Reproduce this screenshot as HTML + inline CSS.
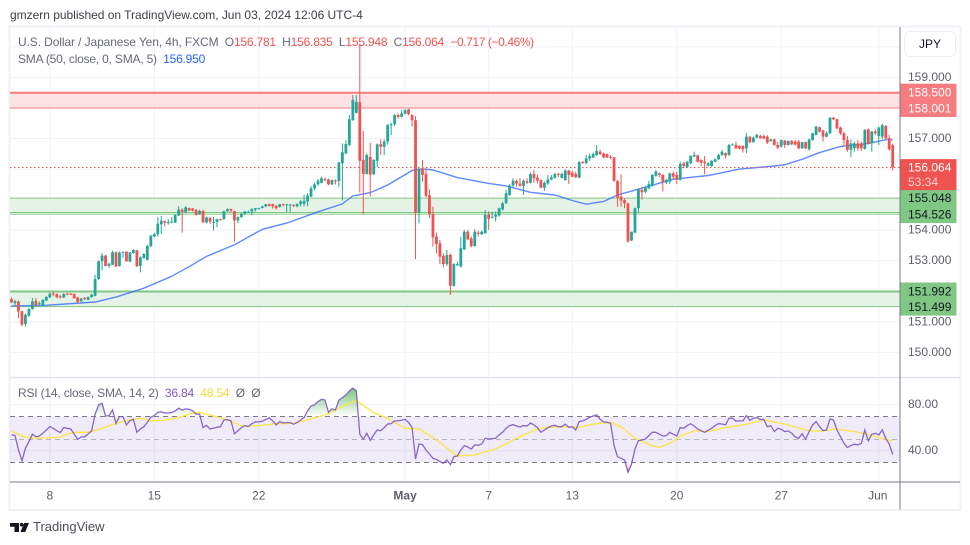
<!DOCTYPE html>
<html lang="en">
<head>
<meta charset="utf-8">
<title>USD/JPY 4h chart</title>
<style>
html,body{margin:0;padding:0;background:#fff;width:970px;height:545px;overflow:hidden}
body{position:relative;font-family:"Liberation Sans",sans-serif;font-size:12px;color:#666975}
svg{position:absolute;left:0;top:0}
.t{position:absolute;white-space:pre;line-height:14px}
.r{color:#ef5350}.b{color:#2962ff}.p{color:#7e57c2}.y{color:#f2dc3c}
</style>
</head>
<body>
<svg id="chart" width="970" height="545" viewBox="0 0 970 545"></svg>

<div class="t" style="left:10px;top:8px;color:#3c3f47;letter-spacing:-.02px">gmzern published on TradingView.com, Jun 03, 2024 12:06 UTC-4</div>

<div class="t" style="left:18px;top:35px;letter-spacing:-.1px">U.S. Dollar / Japanese Yen, 4h, FXCM<span style="letter-spacing:-.2px">  O<span class="r">156.781</span>  H<span class="r">156.835</span>  L<span class="r">155.948</span>  C<span class="r">156.064</span>  </span><span class="r" style="letter-spacing:-.4px">−0.717 (−0.46%)</span></div>
<div class="t" style="left:18px;top:52px;letter-spacing:-.2px">SMA (50, close, 0, SMA, 5)  <span class="b">156.950</span></div>
<div class="t" style="left:18px;top:386px;letter-spacing:-.18px">RSI (14, close, SMA, 14, 2)  <span class="p">36.84</span>  <span class="y">48.54</span>  Ø  Ø</div>

<div class="t" style="left:904px;top:31px;height:24px;line-height:24px;border:1.5px solid #eceef3;border-radius:5px;box-sizing:content-box;width:50px;color:#131722;text-align:center">JPY</div>

<div class="t" style="left:33px;top:519px;font-size:13px;line-height:16px;color:#4a4d55">TradingView</div>

<script>
// ---- price series (4h bars) ----
const opens = [
151.74,151.61,151.66,151.35,150.93,151.20,151.42,151.69,151.59,151.55,
151.70,151.80,151.93,151.91,151.84,151.80,151.92,151.92,151.91,151.80,
151.67,151.78,151.72,151.81,151.85,152.40,152.98,153.17,152.83,152.87,
153.28,152.83,153.27,153.30,152.97,153.25,153.34,152.83,153.09,153.03,
153.47,153.79,153.87,154.19,154.30,154.25,154.26,154.25,154.48,154.67,
154.58,154.72,154.71,154.67,154.52,154.63,154.25,154.40,154.24,154.27,
154.36,154.36,154.62,154.69,154.62,154.32,154.43,154.54,154.59,154.61,
154.67,154.70,154.73,154.78,154.85,154.85,154.80,154.76,154.85,154.83,
154.82,154.83,154.78,154.86,154.86,154.94,155.10,155.37,155.50,155.55,
155.67,155.66,155.50,155.63,155.61,156.19,156.51,156.79,157.60,157.84,
158.19,156.30,155.84,156.40,155.83,156.27,156.81,156.73,156.90,157.44,
157.47,157.77,157.71,157.81,157.95,157.77,157.60,154.57,156.02,155.84,
155.14,154.53,153.79,153.57,153.16,152.89,153.19,152.18,152.85,152.81,
153.37,153.95,153.73,153.48,153.92,153.87,153.90,154.50,154.42,154.44,
154.48,154.68,154.88,155.15,155.46,155.61,155.53,155.45,155.60,155.55,
155.84,155.72,155.64,155.39,155.53,155.66,155.71,155.84,155.71,155.64,
155.95,155.88,155.84,155.72,156.23,156.19,156.35,156.38,156.46,156.57,
156.51,156.49,156.40,156.38,155.61,155.10,154.99,154.88,153.66,153.92,
154.72,155.32,155.26,155.37,155.45,155.78,155.86,155.81,155.56,155.59,
155.86,155.81,155.65,156.19,156.06,156.19,156.41,156.45,156.30,156.24,
156.11,156.10,156.24,156.32,156.46,156.52,156.46,156.79,156.79,156.76,
156.76,156.68,157.06,156.88,157.03,157.08,157.08,157.06,156.92,156.97,
156.79,156.74,156.93,156.79,156.92,156.90,156.90,156.68,156.88,156.65,
156.95,157.12,157.37,157.26,157.06,157.17,157.68,157.63,157.36,157.17,
156.95,156.63,156.68,156.84,156.84,156.66,157.30,156.84,157.23,157.08,
157.06,157.41,157.01,156.78];
const highs = [
151.80,151.72,151.70,151.37,151.27,151.45,151.78,151.78,151.67,151.74,
151.85,151.96,151.98,151.93,151.88,151.94,151.95,151.95,151.93,151.82,
151.78,151.81,151.83,151.92,152.54,153.01,153.25,153.19,152.94,153.33,
153.30,153.30,153.30,153.31,153.29,153.38,153.36,153.14,153.25,153.52,
153.84,153.92,154.43,154.47,154.32,154.36,154.43,154.51,154.78,154.72,
154.78,154.74,154.73,154.69,154.67,154.67,154.45,154.43,154.43,154.38,
154.38,154.64,154.71,154.71,154.64,154.45,154.56,154.63,154.64,154.72,
154.73,154.74,154.80,154.86,154.87,154.87,154.82,154.86,154.87,154.86,
154.86,154.85,154.88,154.99,155.16,155.21,155.45,155.55,155.68,155.75,
155.73,155.69,155.66,155.66,156.24,156.84,156.95,157.77,158.42,158.42,
160.06,157.25,156.51,156.86,156.32,156.84,156.97,156.97,157.47,157.52,
157.80,157.82,157.93,157.96,157.97,157.79,157.73,156.08,156.30,156.02,
155.34,154.77,153.92,153.68,153.24,153.35,153.24,152.92,152.97,153.79,
154.01,154.01,153.79,154.03,153.99,153.99,154.66,154.61,154.61,154.61,
154.74,154.93,155.32,155.51,155.70,155.66,155.70,155.66,155.70,155.88,
155.97,155.81,155.66,155.59,155.81,155.81,155.88,155.88,155.88,155.99,
155.97,155.95,155.92,156.26,156.27,156.46,156.51,156.54,156.79,156.64,
156.54,156.51,156.46,156.40,155.64,155.83,155.04,154.90,153.95,154.74,
155.37,155.42,155.45,155.62,155.83,155.97,155.88,155.83,155.67,155.88,
155.92,155.92,156.24,156.23,156.27,156.45,156.57,156.47,156.32,156.43,
156.22,156.29,156.35,156.50,156.63,156.54,156.82,156.84,156.90,156.78,
156.78,157.19,157.08,157.06,157.15,157.13,157.13,157.11,157.00,157.00,
156.90,156.97,156.95,156.94,156.95,156.95,156.95,156.90,156.90,156.99,
157.19,157.42,157.39,157.28,157.23,157.71,157.71,157.65,157.39,157.23,
157.08,156.97,156.90,156.95,156.90,157.31,157.33,157.25,157.30,157.39,
157.49,157.44,157.12,156.83];
const lows = [
151.61,151.54,151.12,150.85,150.85,151.16,151.40,151.48,151.55,151.50,
151.68,151.78,151.85,151.77,151.76,151.78,151.87,151.88,151.76,151.59,
151.65,151.72,151.71,151.79,151.83,152.38,152.68,152.81,152.77,152.86,
152.79,152.81,153.09,152.97,152.95,153.23,152.79,152.62,153.06,153.01,
153.46,153.77,153.79,153.88,154.12,154.18,154.23,154.23,154.46,153.92,
154.56,154.63,154.61,154.48,154.50,154.24,154.23,154.20,153.99,154.10,
154.32,154.34,154.60,154.58,153.63,154.23,154.40,154.49,154.56,154.49,
154.61,154.68,154.71,154.75,154.78,154.71,154.67,154.74,154.78,154.59,
154.59,154.75,154.75,154.78,154.78,154.78,155.08,155.30,155.45,155.53,
155.60,155.47,155.48,155.50,155.42,154.97,156.49,156.75,157.58,157.82,
155.23,154.53,155.82,155.10,155.81,156.06,156.46,156.46,156.80,157.11,
157.41,157.65,157.69,157.79,157.76,157.39,153.05,154.22,155.59,155.08,
154.39,153.46,153.24,152.89,152.78,152.83,151.88,152.15,152.83,152.78,
153.35,153.68,153.44,153.46,153.79,153.84,153.88,154.01,154.39,154.28,
154.44,154.64,154.86,155.13,155.42,155.42,155.42,155.15,155.51,155.53,
155.55,155.53,155.37,155.29,155.48,155.64,155.69,155.73,155.69,155.62,
155.51,155.73,155.71,155.70,156.17,156.17,156.27,156.36,156.43,156.46,
156.36,156.36,156.32,155.59,154.77,154.77,154.72,153.60,153.64,153.90,
154.58,155.00,155.21,155.34,155.43,155.75,155.73,155.27,155.51,155.51,
155.67,155.51,155.62,156.03,156.04,156.17,156.39,156.22,156.10,155.83,
156.08,156.08,156.22,156.30,156.43,156.35,156.43,156.77,156.65,156.65,
156.54,156.52,156.84,156.86,157.01,156.99,156.98,156.82,156.89,156.77,
156.66,156.70,156.69,156.77,156.79,156.78,156.65,156.66,156.65,156.60,
156.93,157.10,157.20,156.90,157.04,157.15,157.61,157.31,157.12,156.79,
156.57,156.39,156.57,156.60,156.59,156.64,156.80,156.57,157.11,156.79,
156.98,156.98,156.60,155.95];
const closes = [
151.64,151.67,151.34,150.91,151.23,151.42,151.67,151.55,151.61,151.72,
151.81,151.92,151.90,151.81,151.80,151.91,151.89,151.90,151.77,151.65,
151.76,151.74,151.81,151.89,152.40,152.98,153.17,152.83,152.90,153.28,
152.81,153.27,153.29,152.98,153.27,153.35,152.82,153.11,153.22,153.49,
153.82,153.87,154.21,154.31,154.25,154.27,154.28,154.50,154.67,154.60,
154.75,154.64,154.64,154.50,154.63,154.25,154.42,154.28,154.27,154.36,
154.34,154.62,154.69,154.64,154.32,154.43,154.54,154.61,154.60,154.69,
154.72,154.72,154.78,154.85,154.79,154.78,154.72,154.85,154.83,154.85,
154.84,154.80,154.86,154.94,154.96,155.13,155.37,155.50,155.62,155.70,
155.64,155.50,155.64,155.60,156.21,156.55,156.82,157.63,158.26,158.20,
156.27,155.84,156.46,155.82,156.30,156.81,156.73,156.90,157.44,157.47,
157.77,157.71,157.82,157.93,157.80,157.60,154.57,156.02,155.81,155.12,
154.52,153.77,153.55,153.13,152.89,153.19,152.18,152.89,152.89,153.41,
153.95,153.70,153.48,153.95,153.88,153.95,154.50,154.37,154.44,154.50,
154.72,154.88,155.21,155.46,155.62,155.53,155.45,155.62,155.55,155.84,
155.70,155.62,155.39,155.55,155.66,155.73,155.84,155.81,155.84,155.95,
155.81,155.75,155.73,156.23,156.20,156.35,156.43,156.49,156.59,156.49,
156.38,156.38,156.38,155.61,155.07,154.97,154.88,153.63,153.95,154.72,
155.34,155.24,155.39,155.51,155.81,155.92,155.81,155.59,155.65,155.86,
155.75,155.65,156.17,156.10,156.24,156.43,156.46,156.24,156.21,156.19,
156.19,156.27,156.32,156.46,156.57,156.44,156.79,156.81,156.68,156.67,
156.65,157.06,156.88,157.03,157.12,157.01,157.00,156.87,156.97,156.79,
156.70,156.95,156.79,156.92,156.81,156.80,156.68,156.88,156.68,156.97,
157.17,157.39,157.22,157.06,157.17,157.68,157.63,157.33,157.17,156.95,
156.63,156.84,156.84,156.68,156.68,157.28,156.82,157.23,157.17,157.36,
157.44,157.01,156.65,156.06];

// SMA 50 readings, taken at these bar numbers
const smaBars = [0,10,24,30,38,46,52,56,64,72,79,88,95,98,103,108,115,118,121,128,137,142,149,156,161,165,170,174,180,190,200,209,219,222,227,232,238,246,252,253];
const smaValues = [151.52,151.54,151.65,151.81,152.10,152.49,152.87,153.14,153.52,154.03,154.23,154.60,154.86,155.12,155.23,155.48,155.95,156.01,155.97,155.72,155.53,155.45,155.24,155.15,154.97,154.85,154.94,155.15,155.34,155.67,155.79,156.00,156.10,156.14,156.32,156.54,156.74,156.84,156.98,156.95];

// RSI per bar
const rsiValues = [
53.8,53.2,40.7,31.4,42.2,48.0,54.4,52.3,52.9,55.2,
58.1,61.0,59.6,57.5,55.8,60.2,59.6,59.0,54.4,50.0,
52.0,52.3,54.6,57.3,71.8,79.9,81.3,70.3,70.6,75.5,
63.9,69.7,69.7,62.5,66.2,67.4,56.1,59.0,61.0,64.8,
69.1,70.6,73.5,73.8,72.9,72.9,73.2,74.7,77.0,75.5,
76.4,76.1,74.9,71.8,71.8,60.2,62.2,59.0,59.6,60.4,
61.0,66.8,67.1,66.2,54.9,57.3,60.2,61.9,61.0,63.6,
65.1,65.1,65.7,67.1,68.6,66.2,62.5,65.4,64.2,64.5,
64.5,63.1,64.5,66.8,68.9,74.9,79.0,79.9,82.8,84.8,
84.2,73.5,76.4,75.5,84.2,86.3,88.6,92.1,94.4,92.3,
54.4,50.0,55.2,49.1,53.8,58.1,57.5,60.2,63.3,63.6,
66.0,66.0,66.5,67.4,64.5,60.4,32.9,45.9,45.4,40.7,
37.2,33.5,32.6,30.6,29.1,32.0,28.0,34.9,35.5,40.7,
44.5,43.3,41.6,45.1,44.8,45.9,50.9,50.3,50.6,50.9,
53.8,56.1,59.6,61.9,62.8,61.6,60.7,61.9,61.6,64.2,
62.5,60.2,56.1,58.1,60.2,61.6,62.2,61.0,61.0,63.1,
60.4,61.0,58.1,65.4,66.0,67.4,69.1,70.3,71.2,67.4,
65.1,64.8,63.9,44.5,34.9,33.5,32.0,21.3,28.3,41.6,
48.8,49.4,50.3,53.2,56.1,56.1,54.4,52.9,53.2,56.1,
54.4,52.9,60.2,59.6,61.9,63.6,61.6,59.0,57.5,56.1,
57.8,59.6,61.9,63.6,63.3,62.5,68.3,68.3,65.7,66.0,
66.0,70.6,66.5,68.3,68.9,67.1,67.4,61.0,61.9,56.7,
59.6,58.7,56.7,57.3,55.2,52.0,50.9,54.9,50.0,56.7,
62.5,65.4,61.0,57.5,58.1,67.7,66.8,58.1,52.3,46.5,
43.0,44.5,45.7,45.1,46.5,58.1,48.8,54.4,55.2,53.8,
58.1,50.9,45.9,36.84];

// RSI moving-average readings, taken at these bar numbers
const rsiMaBars = [0,3,6,10,14,16,18,22,26,30,34,37,40,44,48,52,54,58,62,66,68,72,76,81,86,90,93,96,99,104,108,113,117,121,128,133,139,145,151,156,163,167,172,175,179,184,186,190,192,196,200,205,210,216,222,229,233,237,242,247,253];
const rsiMaValues = [57.3,52.6,50.9,51.2,51.7,54.6,56.1,56.1,59.6,63.9,66.8,68.3,66.2,66.5,68.9,72.9,73.5,70.3,66.8,61.9,61.3,62.2,63.6,63.9,67.7,71.2,75.5,79.9,83.6,73.2,68.3,59.6,59.0,51.7,35.5,36.4,41.6,50.9,59.0,61.0,60.4,63.3,64.8,61.0,50.9,44.5,43.0,48.0,52.9,57.3,56.7,60.2,62.5,66.8,63.3,57.3,57.3,59.0,56.7,53.2,48.54];

// Axis ticks and labels
const priceGridLevels = [160,159,158,157,156,155,154,153,152,151,150];
const priceTickLabels = ["159.000","157.000","154.000","153.000","151.000","150.000"];
const rsiGridLevels = [80,40];
const rsiTickLabels = ["80.00","40.00"];
const timeTickBars = [11,41,71,113,137,161,191,221,249];
const timeTickLabels = ["8","15","22","May","7","13","20","27","Jun"];

// Drawn zones
const resistanceZone = [158.5,158.001];
const upperSupportZone = [155.048,154.58];
const upperSupportLine = [154.526];
const lowerSupportZone = [151.992,151.499];
const lastPrice = [156.064];
const countdownLabel = ["53:34"];

// ---- axis functions ----
const lastBarX = 892.7, barStep = 3.483;
function xOf(bar){ return lastBarX - barStep*(closes.length-1-bar); }
function yOf(price){ return 92.7 + (158.5-price)*30.55; }
function yRsi(v){ return 439.3 + (50-v)*1.15; }
function crisp(y){ return Math.floor(y)+0.5; }

const NS = "http://www.w3.org/2000/svg";
const svg = document.getElementById("chart");
function mk(tag, attrs, parent){
  const e = document.createElementNS(NS, tag);
  for(const k in attrs){ e.setAttribute(k, attrs[k]); }
  (parent||svg).appendChild(e);
  return e;
}
function pts(bars, vals, yf){
  return bars.map((b,i)=>xOf(b).toFixed(1)+","+yf(vals[i]).toFixed(1)).join(" ");
}
const L = 10, R = 900, TOP = 27, SEP = 377.5, AX = 482, BOT = 509.5;
const allBars = closes.map((_,i)=>i);

// defs
const defs = mk("defs",{});
const gUp = mk("linearGradient",{id:"obFill",gradientUnits:"userSpaceOnUse",x1:0,x2:0,y1:388,y2:yRsi(70)},defs);
mk("stop",{offset:"0","stop-color":"#4caf50","stop-opacity":"0.75"},gUp);
mk("stop",{offset:"1","stop-color":"#4caf50","stop-opacity":"0"},gUp);
const gDn = mk("linearGradient",{id:"osFill",gradientUnits:"userSpaceOnUse",x1:0,x2:0,y1:yRsi(30),y2:474},defs);
mk("stop",{offset:"0","stop-color":"#ef5350","stop-opacity":"0"},gDn);
mk("stop",{offset:"1","stop-color":"#ef5350","stop-opacity":"0.6"},gDn);
const cpA = mk("clipPath",{id:"aboveBand"},defs);
mk("rect",{x:L,y:TOP,width:R-L,height:yRsi(70)-TOP},cpA);
const cpB = mk("clipPath",{id:"belowBand"},defs);
mk("rect",{x:L,y:yRsi(30),width:R-L,height:AX-yRsi(30)},cpB);
const cpPane = mk("clipPath",{id:"pane"},defs);
mk("rect",{x:L,y:TOP,width:R-L,height:SEP-TOP},cpPane);

// frame
const frame = mk("rect",{x:9.5,y:26.5,width:951,height:483.5,fill:"none",stroke:"#eff1f7","stroke-width":2});



// grid
priceGridLevels.forEach(function(p){
  const y = yOf(p);
  const g = mk("line",{x1:L,x2:R,y1:y,y2:y,stroke:"#f0f1f7","stroke-width":1});
  
  
});
rsiGridLevels.forEach(function(v){
  const y = yRsi(v);
  const g = mk("line",{x1:L,x2:R,y1:y,y2:y,stroke:"#f0f1f7","stroke-width":1});
  
  
});
timeTickBars.forEach(function(b){
  const x = xOf(b);
  const g = mk("line",{x1:x,x2:x,y1:TOP,y2:AX,stroke:"#f0f1f7","stroke-width":1});
  
  
});

// zones
function zone(range, fill, stroke, name){
  const y0 = yOf(range[0]), y1 = yOf(range[1]);
  const r = mk("rect",{x:L,y:y0,width:R-L,height:y1-y0,fill:fill});
  
  
  const a = mk("line",{x1:L,x2:R,y1:y0,y2:y0,stroke:stroke,"stroke-width":name==="upper-support-zone"?1:2});
  
  
  const b = mk("line",{x1:L,x2:R,y1:y1,y2:y1,stroke:stroke,"stroke-width":1});
  
  
}
zone(resistanceZone,"#fce2e3","#f77c80","resistance-zone");
zone(upperSupportZone,"#e5f3e6","#81c784","upper-support-zone");
zone(lowerSupportZone,"#e5f3e6","#81c784","lower-support-zone");
const usl = mk("line",{x1:L,x2:R,y1:yOf(upperSupportLine[0]),y2:yOf(upperSupportLine[0]),stroke:"#81c784","stroke-width":1});



// SMA drawn under candles
const smaLine = mk("polyline",{points:pts(smaBars,smaValues,yOf),fill:"none",stroke:"#2962ff","stroke-width":1.4,"stroke-opacity":0.75,"clip-path":"url(#pane)"});



// last price line
const lp = mk("line",{x1:L,x2:R,y1:crisp(yOf(lastPrice[0])),y2:crisp(yOf(lastPrice[0])),stroke:"#ef5350","stroke-width":1,"stroke-dasharray":"1.5 2.5"});



// candles
closes.forEach(function(c,i){
  const o = opens[i], up = c>=o, col = up ? "#26a69a" : "#ef5350";
  const x = xOf(i);
  const w = mk("rect",{x:(x-0.5).toFixed(2),y:yOf(highs[i]).toFixed(2),width:1,height:Math.max(0.5,yOf(lows[i])-yOf(highs[i])).toFixed(2),fill:col});
  
  
  const top = yOf(Math.max(o,c)), bot = yOf(Math.min(o,c));
  const b = mk("rect",{x:(x-1.4).toFixed(2),y:top.toFixed(2),width:2.8,height:Math.max(1,bot-top).toFixed(2),fill:col});
  
  
});

// pane separator and axes
const sep = mk("line",{x1:L,x2:960,y1:SEP,y2:SEP,stroke:"#e4e6ee","stroke-width":1.5});


const priceAxisLine = mk("line",{x1:R,x2:R,y1:TOP,y2:BOT,stroke:"#787b86","stroke-width":1});


const timeAxisLine = mk("line",{x1:L,x2:960,y1:AX,y2:AX,stroke:"#787b86","stroke-width":1});



// RSI pane
const bandBg = mk("rect",{x:L,y:yRsi(70),width:R-L,height:yRsi(30)-yRsi(70),fill:"#7e57c2","fill-opacity":0.12});


[70,50,30].forEach(function(v){
  const d = mk("line",{x1:L,x2:R,y1:crisp(yRsi(v)),y2:crisp(yRsi(v)),stroke:v===50?"#b2b5be":"#787b86","stroke-width":1,"stroke-dasharray":"5 4"});
  
  
});
const areaPts = xOf(0)+","+yRsi(70)+" "+pts(allBars,rsiValues,yRsi)+" "+xOf(closes.length-1)+","+yRsi(70);
const ob = mk("polygon",{points:areaPts,fill:"url(#obFill)","clip-path":"url(#aboveBand)"});


const areaPtsLow = xOf(0)+","+yRsi(30)+" "+pts(allBars,rsiValues,yRsi)+" "+xOf(closes.length-1)+","+yRsi(30);
const os = mk("polygon",{points:areaPtsLow,fill:"url(#osFill)","clip-path":"url(#belowBand)"});


const rsiMa = mk("polyline",{points:pts(rsiMaBars,rsiMaValues,yRsi),fill:"none",stroke:"#fbe64a","stroke-width":1.4});


const rsiLine = mk("polyline",{points:pts(allBars,rsiValues,yRsi),fill:"none",stroke:"#7e57c2","stroke-width":1.3,"stroke-opacity":0.9});



// axis text
function txt(s, x, y, anchor, fill, weight){
  const t = mk("text",{x:x,y:y,"text-anchor":anchor,fill:fill,"font-family":"'Liberation Sans',sans-serif","font-size":12,"font-weight":weight||"normal","dominant-baseline":"central"});
  t.textContent = s;
  return t;
}
priceTickLabels.forEach(function(s){
  const t = txt(s, 908, yOf(parseFloat(s))-0.5, "start", "#5d606b");
  
  
});
rsiTickLabels.forEach(function(s){
  const t = txt(s, 908, yRsi(parseFloat(s))-1, "start", "#5d606b");
  
  
});
timeTickLabels.forEach(function(s,i){
  const t = txt(s, xOf(timeTickBars[i])-(s==="Jun"?1:0), 495.5, "middle", "#5d606b", s==="May"?"bold":"normal");
  
  
});

// coloured price tags
function tag(range, fill, color, name){
  const y0 = yOf(range[0])-9, y1 = yOf(range[1])+9;
  const r = mk("rect",{x:900.5,y:y0,width:56,height:y1-y0,fill:fill});
  
  
  range.forEach(function(v){
    const t = txt(v.toFixed(3), 908, yOf(v)+(v===range[1]?0.5:0), "start", color);
    
    
  });
}
tag(resistanceZone,"#f77c80","#ffffff","resistance");
const sup = [upperSupportZone[0], upperSupportLine[0]];
tag(sup,"#81c784","#131722","upper-support");
tag(lowerSupportZone,"#81c784","#131722","lower-support");
const yLast = yOf(lastPrice[0]);
const lastBox = mk("rect",{x:900.5,y:yLast-8,width:56,height:31,fill:"#ef5350"});


const lastText = txt(lastPrice[0].toFixed(3), 908, yLast+0.5, "start", "#ffffff");


const cdText = txt(countdownLabel[0], 908, yLast+15, "start", "#fbd0d0");



// TradingView logo shapes
const logo = mk("g",{fill:"#131722"});


mk("path",{d:"M10 523h9v9h-4.5v-5.2H10z"},logo);
mk("circle",{cx:21.6,cy:524.7,r:1.8},logo);
mk("path",{d:"M24.2 523h4.8l-3.8 9h-4.8z"},logo);
</script>
</body>
</html>
